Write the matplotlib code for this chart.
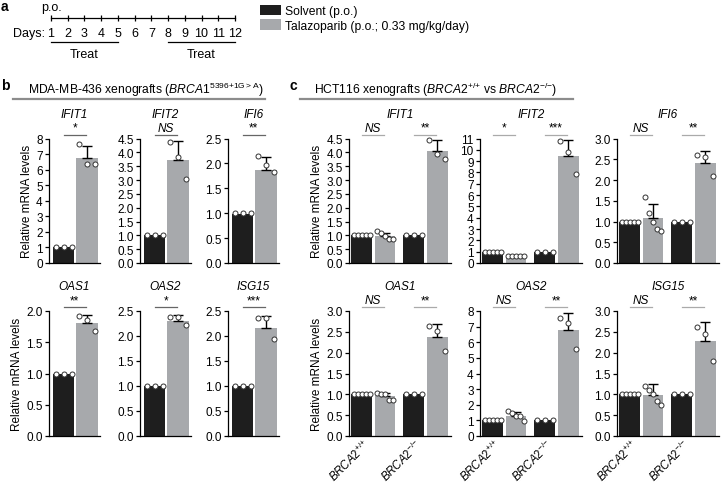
import matplotlib
matplotlib.use("Agg")
import matplotlib.pyplot as plt
import matplotlib.transforms as mtransforms
from matplotlib.patches import Patch
from matplotlib.lines import Line2D
import numpy as np

plt.rcParams['font.family'] = ['Liberation Sans', 'DejaVu Sans']
plt.rcParams['mathtext.fontset'] = 'custom'
plt.rcParams['mathtext.rm'] = 'Liberation Sans'
plt.rcParams['mathtext.it'] = 'Liberation Sans:italic'
plt.rcParams['mathtext.bf'] = 'Liberation Sans:bold'

BLACK = '#1e1e1e'
GRAY = '#a7a9ac'
FS = 8.5

# ---- panel a: dosing schedule ----
days = list(range(1, 13))
treat_blocks = [(1, 5), (8, 12)]

genes = ['IFIT1', 'IFIT2', 'IFI6', 'OAS1', 'OAS2', 'ISG15']

# ---- panel b: MDA-MB-436 (solvent vs talazoparib) ----
b_solvent = [1.0, 1.0, 0.99, 1.0, 1.0, 1.0]
b_solvent_pts = [[1.0, 1.0, 1.0]] * 6
b_tala = [6.72, 3.74, 1.87, 1.81, 2.31, 2.16]
b_tala_sd = [0.83, 0.66, 0.25, 0.13, 0.11, 0.24]
b_tala_pts = [[7.64, 6.33, 6.33], [4.36, 3.84, 3.05], [2.15, 1.97, 1.82],
              [1.92, 1.86, 1.68], [2.39, 2.39, 2.23], [2.36, 2.36, 1.94]]
b_sig = ['*', 'NS', '**', '**', '*', '***']
b_ymax = [8, 4.5, 2.5, 2.0, 2.5, 2.5]
b_ystep = [1, 0.5, 0.5, 0.5, 0.5, 0.5]

# ---- panel c: HCT116 BRCA2+/+ vs BRCA2-/- ----
c_solvent_wt = [1.0, 1.0, 1.0, 1.0, 1.0, 1.0]
c_solvent_wt_pts = [[1.0] * 5] * 6
c_tala_wt = [0.97, 0.62, 1.08, 0.96, 1.29, 0.98]
c_tala_wt_sd = [0.13, 0.06, 0.34, 0.07, 0.24, 0.27]
c_tala_wt_pts = [[1.14, 1.08, 0.98, 0.87, 0.87], [0.66, 0.64, 0.62, 0.60, 0.60],
                 [1.60, 1.20, 1.00, 0.82, 0.78], [1.03, 1.02, 1.00, 0.87, 0.87],
                 [1.60, 1.45, 1.30, 1.25, 0.97], [1.20, 1.10, 1.00, 0.85, 0.75]]
c_solvent_ko = [1.0, 1.0, 1.0, 1.0, 1.0, 1.0]
c_solvent_ko_pts = [[1.0] * 3] * 6
c_tala_ko = [4.05, 9.44, 2.42, 2.37, 6.79, 2.29]
c_tala_ko_sd = [0.40, 1.46, 0.28, 0.32, 1.08, 0.44]
c_tala_ko_pts = [[4.45, 3.93, 3.75], [10.76, 9.80, 7.90], [2.60, 2.55, 2.10],
                 [2.65, 2.53, 2.05], [7.54, 7.24, 5.56], [2.61, 2.45, 1.81]]
c_sig_wt = ['NS', '*', 'NS', 'NS', 'NS', 'NS']
c_sig_ko = ['**', '***', '**', '**', '**', '**']
c_ymax = [4.5, 11, 3.0, 3.0, 8, 3.0]
c_ystep = [0.5, 1, 0.5, 0.5, 1, 0.5]
c_groups = [r'$\mathit{BRCA2}^{{+}/{+}}$', r'$\mathit{BRCA2}^{{-}/{-}}$']

W, H = 722, 485
fig = plt.figure(figsize=(W / 100, H / 100), dpi=100)


def px_axes(left, top, width, height):
    return fig.add_axes([left / W, 1 - (top + height) / H, width / W, height / H])


def draw_bars(ax, xs, means, sds, pts, colors):
    ax.bar(xs, means, width=0.9, color=colors, zorder=1)
    for x, m, s, p in zip(xs, means, sds, pts):
        if s > 0:
            ax.errorbar(x, m, yerr=[[0], [s]], fmt='none', ecolor='black',
                        elinewidth=1, capsize=3.6, capthick=1, zorder=2)
        offs = np.linspace(-0.34, 0.34, len(p))
        ax.scatter(x + offs, p, s=13, facecolor='white', edgecolor='#333333',
                   linewidths=0.7, zorder=3, clip_on=False)


def style_axis(ax, ymax, ystep, title, xlim):
    ax.set_xlim(*xlim)
    ax.set_ylim(0, ymax)
    ticks = np.arange(0, ymax + ystep / 2, ystep)
    ax.set_yticks(ticks)
    if ystep >= 1:
        ax.set_yticklabels([f'{t:.0f}' for t in ticks])
    else:
        ax.set_yticklabels([f'{t:.1f}' for t in ticks])
    for sp in ['top', 'right']:
        ax.spines[sp].set_visible(False)
    for sp in ['left', 'bottom']:
        ax.spines[sp].set_linewidth(0.9)
    ax.tick_params(axis='y', direction='out', length=3, width=0.9, labelsize=FS, pad=1.5)
    ax.set_xticks([])
    ax.text(0.5, 1.2, title, transform=ax.transAxes, ha='center', va='center',
            style='italic', fontsize=FS)


def sig_mark(ax, x0, x1, label, color):
    tr = ax.get_xaxis_transform()
    ax.plot([x0, x1], [1.03, 1.03], transform=tr, color=color, lw=0.9, clip_on=False)
    ax.text((x0 + x1) / 2, 1.04, label, transform=tr, ha='center', va='bottom',
            fontsize=FS, style='italic' if label == 'NS' else 'normal')


# ---- panel a ----
ax_a = px_axes(51, 0, 235 - 51, 62)
ax_a.set_xlim(days[0], days[-1])
ax_a.set_ylim(62, 0)
ax_a.axis('off')
ax_a.plot([days[0], days[-1]], [19, 19], color='black', lw=0.9, clip_on=False)
ax_a.vlines(days, 16, 22, color='black', lw=0.9, clip_on=False)
for d in days:
    ax_a.text(d, 34, str(d), ha='center', va='center', fontsize=9)
ax_a.text(0.62, 34, 'Days:', ha='right', va='center', fontsize=9)
ax_a.text(days[0], 8, 'p.o.', ha='center', va='center', fontsize=9)
for s, e in treat_blocks:
    ax_a.plot([s, e], [43, 43], color='black', lw=0.9, clip_on=False)
    ax_a.text((s + e) / 2, 55, 'Treat', ha='center', va='center', fontsize=9)

fig.legend(handles=[Patch(facecolor=BLACK, label='Solvent (p.o.)'),
                    Patch(facecolor=GRAY, label='Talazoparib (p.o.; 0.33 mg/kg/day)')],
           loc='upper left', bbox_to_anchor=(260 / W, 1 - 6 / H), frameon=False,
           fontsize=8.7, handlelength=1.7, handleheight=0.95, labelspacing=0.15,
           handletextpad=0.35, borderpad=0, borderaxespad=0)

# ---- panel labels and headers ----
fig.text(1 / W, 1 - 7 / H, 'a', fontsize=10, fontweight='bold', va='center')
fig.text(1 / W, 1 - 86 / H, 'b', fontsize=10, fontweight='bold', va='center')
fig.text(289 / W, 1 - 86 / H, 'c', fontsize=10, fontweight='bold', va='center')
fig.text(146 / W, 1 - 90 / H,
         r'MDA-MB-436 xenografts ($\mathit{BRCA1}^{\mathrm{5396{+}1G{>}A}}$)',
         ha='center', va='center', fontsize=8.7)
fig.text(436 / W, 1 - 90 / H,
         r'HCT116 xenografts ($\mathit{BRCA2}^{{+}/{+}}$ vs $\mathit{BRCA2}^{{-}/{-}}$)',
         ha='center', va='center', fontsize=8.7)
fig.add_artist(Line2D([13 / W, 265 / W], [1 - 100 / H] * 2, color='#8c8c8c', lw=1.6))
fig.add_artist(Line2D([300 / W, 573 / W], [1 - 100 / H] * 2, color='#8c8c8c', lw=1.6))

row_top = [139.5, 312]
row_h = [124.5, 125]
b_left = [49, 140, 228]
c_left = [349, 480, 617]

# ---- panel b ----
for i, g in enumerate(genes):
    r, col = divmod(i, 3)
    ax = px_axes(b_left[col], row_top[r], 51, row_h[r])
    draw_bars(ax, [0, 1], [b_solvent[i], b_tala[i]], [0, b_tala_sd[i]],
              [b_solvent_pts[i], b_tala_pts[i]], [BLACK, GRAY])
    style_axis(ax, b_ymax[i], b_ystep[i], g, (-0.62, 1.55))
    sig_mark(ax, 0, 0.95, b_sig[i], '#666666')
    if col == 0:
        ax.set_ylabel('Relative mRNA levels', fontsize=FS, labelpad=2)

# ---- panel c ----
cx = [0, 1, 2.25, 3.25]
for i, g in enumerate(genes):
    r, col = divmod(i, 3)
    ax = px_axes(c_left[col], row_top[r], 102, row_h[r])
    draw_bars(ax, cx, [c_solvent_wt[i], c_tala_wt[i], c_solvent_ko[i], c_tala_ko[i]],
              [0, c_tala_wt_sd[i], 0, c_tala_ko_sd[i]],
              [c_solvent_wt_pts[i], c_tala_wt_pts[i], c_solvent_ko_pts[i], c_tala_ko_pts[i]],
              [BLACK, GRAY, BLACK, GRAY])
    style_axis(ax, c_ymax[i], c_ystep[i], g, (-0.55, 3.85))
    sig_mark(ax, cx[0], cx[1] - 0.05, c_sig_wt[i], '#aaaaaa')
    sig_mark(ax, cx[2], cx[3] - 0.05, c_sig_ko[i], '#aaaaaa')
    if col == 0:
        ax.set_ylabel('Relative mRNA levels', fontsize=FS, labelpad=2)
    if r == 1:
        ax.set_xticks([(cx[0] + cx[1]) / 2, (cx[2] + cx[3]) / 2])
        ax.set_xticklabels(c_groups, rotation=45, ha='right', rotation_mode='anchor',
                           fontsize=8.3)
        ax.tick_params(axis='x', length=0, pad=0.5)
        shift = mtransforms.ScaledTranslation(-8 / 72, 0, fig.dpi_scale_trans)
        for lab in ax.get_xticklabels():
            lab.set_transform(lab.get_transform() + shift)

fig.savefig('out.png', dpi=100)
